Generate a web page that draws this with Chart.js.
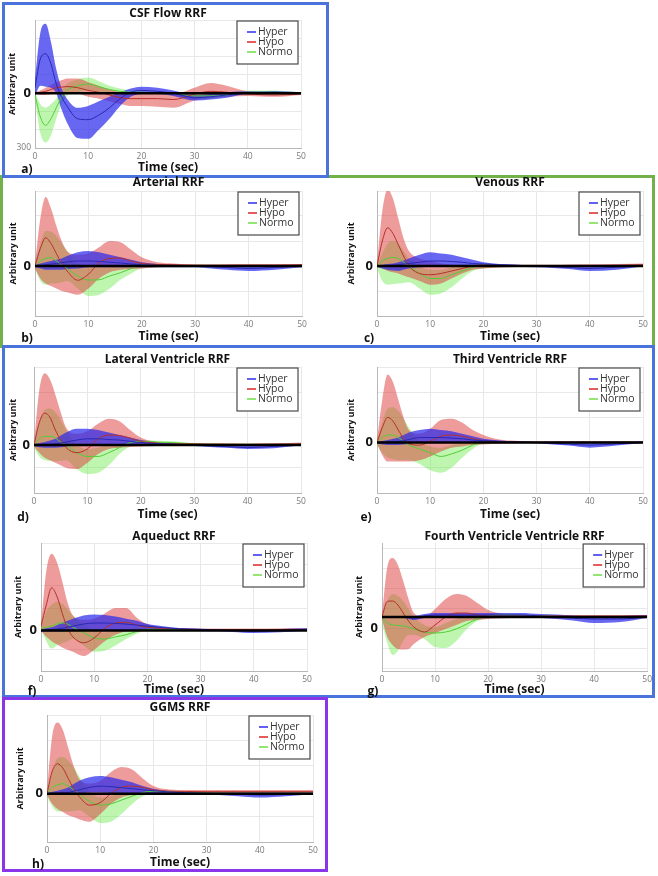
<!DOCTYPE html>
<html>
<head>
<meta charset="utf-8">
<script src="https://cdn.jsdelivr.net/npm/chart.js@4.4.1/dist/chart.umd.min.js"></script>
<style>
  body { margin: 0; width: 658px; height: 876px; position: relative; overflow: hidden; background: #fff; font-family: "Open Sans", sans-serif; }
  .frame { position: absolute; box-sizing: border-box; border: 3px solid; }
  .letter { position: absolute; font: bold 12px "Open Sans", sans-serif; color: #111; transform: translate(-50%, -50%); }
  canvas { position: absolute; }
</style>
</head>
<body>
<div class="frame" style="left:0;top:175px;width:655px;height:173px;border-color:#72b04a"></div>
<div class="frame" style="left:2px;top:2px;width:327px;height:176px;border-color:#4a74dc"></div>
<div class="frame" style="left:2px;top:345px;width:653px;height:353px;border-color:#4a74dc"></div>
<div class="frame" style="left:2px;top:697px;width:326px;height:175px;border-color:#8b35e8"></div>

<script>
// time axis (sec) shared by every panel
const timeSec = [0, 1, 2, 3, 4, 5, 6, 8, 10, 12, 14, 16, 18, 20, 23, 26, 30, 33, 36, 40, 45, 50];
const timeTicks = [0, 10, 20, 30, 40, 50];
const seriesNames = ['Hyper', 'Hypo', 'Normo'];

// a) CSF Flow (units of 100)
const aHyperMean = [0.3, 1.87, 2.15, 1.6, 0.5, -0.2, -0.7, -1.4, -1.45, -1.2, -0.8, -0.3, 0.05, 0.15, 0.1, 0.0, -0.25, -0.2, -0.1, 0.0, 0.05, 0.0];
const aHyperUp   = [0.8, 3.3, 3.8, 2.8, 1.3, 0.25, -0.3, -0.8, -0.7, -0.45, -0.2, 0.05, 0.25, 0.35, 0.3, 0.15, -0.1, -0.05, 0.05, 0.1, 0.1, 0.05];
const aHyperLo   = [-0.2, 0.4, 0.35, 0.3, 0.0, -0.9, -1.6, -2.45, -2.5, -2.0, -1.4, -0.7, -0.2, -0.05, -0.05, -0.15, -0.4, -0.35, -0.25, -0.05, -0.05, -0.05];
const aHypoMean  = [0, 0.05, 0.1, 0.2, 0.3, 0.33, 0.36, 0.3, 0.15, 0.05, -0.1, -0.25, -0.3, -0.3, -0.3, -0.35, -0.05, 0.1, 0.05, -0.05, -0.1, -0.05];
const aHypoUp    = [0.05, 0.15, 0.3, 0.45, 0.6, 0.7, 0.8, 0.8, 0.6, 0.4, 0.2, 0.05, 0.0, 0.0, -0.05, -0.05, 0.3, 0.55, 0.4, 0.1, 0.05, 0.05];
const aHypoLo    = [-0.05, -0.1, -0.1, -0.05, 0.0, 0.03, 0.05, 0.0, -0.2, -0.3, -0.45, -0.6, -0.7, -0.7, -0.75, -0.8, -0.4, -0.25, -0.2, -0.15, -0.2, -0.1];
const aNormoMean = [-0.1, -1.3, -1.76, -1.4, -0.8, -0.2, 0.15, 0.4, 0.5, 0.35, 0.2, 0.1, 0.05, 0.05, 0.02, 0.0, -0.15, -0.15, -0.1, 0.05, 0.05, 0.0];
const aNormoUp   = [0.05, -0.6, -0.8, -0.6, -0.3, 0.15, 0.5, 0.75, 0.85, 0.65, 0.4, 0.25, 0.15, 0.1, 0.08, 0.05, -0.05, -0.05, 0.0, 0.15, 0.15, 0.05];
const aNormoLo   = [-0.3, -2.2, -2.7, -2.3, -1.4, -0.6, -0.15, 0.05, 0.15, 0.05, 0.0, -0.05, -0.05, -0.05, -0.05, -0.1, -0.3, -0.3, -0.2, -0.05, -0.05, -0.05];
const aYTicks    = [-3, -2, -1, 0, 1, 2, 3, 4];
const aYText     = ['300', '', '', '0', '', '', '', ''];

// b) Arterial
const bHyperMean = [0, 0.02, 0.05, 0.08, 0.1, 0.13, 0.16, 0.2, 0.2, 0.18, 0.15, 0.12, 0.08, 0.05, 0.03, 0.01, 0.0, -0.03, -0.06, -0.1, -0.06, 0.0];
const bHyperUp   = [0.05, 0.1, 0.15, 0.2, 0.25, 0.3, 0.4, 0.55, 0.6, 0.55, 0.45, 0.35, 0.25, 0.15, 0.08, 0.05, 0.02, 0.0, 0.0, 0.0, 0.02, 0.05];
const bHyperLo   = [-0.05, -0.1, -0.15, -0.15, -0.15, -0.15, -0.12, -0.1, -0.05, -0.05, -0.05, -0.05, -0.05, -0.05, -0.05, -0.05, -0.05, -0.1, -0.15, -0.2, -0.15, -0.05];
const bHypoMean  = [0, 0.7, 1.13, 0.9, 0.5, 0.1, -0.2, -0.57, -0.33, 0.13, 0.3, 0.32, 0.2, 0.1, 0.06, 0.05, 0.03, 0.03, 0.03, 0.03, 0.03, 0.05];
const bHypoUp    = [0.1, 1.9, 2.76, 2.3, 1.6, 1.0, 0.6, 0.45, 0.5, 0.75, 1.0, 0.95, 0.65, 0.35, 0.15, 0.1, 0.06, 0.06, 0.07, 0.08, 0.08, 0.08];
const bHypoLo    = [-0.1, -0.5, -0.7, -0.8, -0.9, -1.0, -1.05, -1.15, -0.9, -0.5, -0.25, -0.15, -0.12, -0.1, -0.05, -0.03, -0.02, -0.02, -0.02, -0.02, -0.02, -0.02];
const bNormoMean = [0, 0.2, 0.3, 0.33, 0.2, 0.05, -0.1, -0.4, -0.56, -0.55, -0.4, -0.27, -0.1, 0.04, 0.03, 0.01, 0.0, 0.0, 0.0, 0.0, 0.0, 0.0];
const bNormoUp   = [0.1, 0.9, 1.4, 1.37, 1.2, 0.9, 0.6, 0.1, 0.0, 0.0, 0.05, 0.05, 0.08, 0.1, 0.08, 0.05, 0.05, 0.05, 0.05, 0.05, 0.05, 0.05];
const bNormoLo   = [-0.1, -0.6, -0.75, -0.7, -0.7, -0.65, -0.6, -0.9, -1.2, -1.15, -0.9, -0.55, -0.3, -0.1, -0.05, -0.05, -0.05, -0.05, -0.05, -0.05, -0.05, -0.05];
const bYTicks    = [-2, -1, 0, 1, 2, 3];
const bYText     = ['', '', '0', '', '', ''];

// c) Venous
const cHyperMean = [0, 0.01, 0.02, 0.03, 0.05, 0.08, 0.1, 0.15, 0.2, 0.2, 0.18, 0.15, 0.1, 0.08, 0.05, 0.03, 0.0, -0.03, -0.06, -0.1, -0.05, 0.0];
const cHyperUp   = [0.03, 0.05, 0.08, 0.1, 0.15, 0.22, 0.3, 0.45, 0.55, 0.5, 0.45, 0.35, 0.25, 0.15, 0.08, 0.05, 0.02, 0.0, 0.0, 0.0, 0.02, 0.05];
const cHyperLo   = [-0.03, -0.1, -0.15, -0.18, -0.2, -0.15, -0.1, -0.05, -0.03, -0.03, -0.03, -0.03, -0.03, -0.03, -0.03, -0.04, -0.05, -0.08, -0.12, -0.2, -0.15, -0.02];
const cHypoMean  = [0, 1.0, 1.53, 1.3, 0.85, 0.4, 0.0, -0.3, -0.35, -0.3, -0.2, -0.1, 0.0, 0.05, 0.03, 0.02, 0.02, 0.02, 0.02, 0.02, 0.03, 0.05];
const cHypoUp    = [0.1, 2.2, 3.05, 2.7, 1.9, 1.1, 0.6, 0.3, 0.2, 0.1, 0.06, 0.05, 0.05, 0.05, 0.05, 0.05, 0.05, 0.05, 0.06, 0.07, 0.08, 0.1];
const cHypoLo    = [-0.05, -0.1, -0.2, -0.25, -0.3, -0.38, -0.45, -0.6, -0.75, -0.7, -0.5, -0.3, -0.15, -0.1, -0.06, -0.04, -0.02, -0.02, -0.02, -0.02, -0.02, -0.02];
const cNormoMean = [0, 0.2, 0.3, 0.35, 0.3, 0.15, 0.0, -0.3, -0.5, -0.5, -0.35, -0.2, -0.05, 0.05, 0.02, 0.01, 0.0, 0.0, 0.0, 0.0, 0.0, 0.0];
const cNormoUp   = [0.05, 0.5, 0.9, 1.0, 0.9, 0.6, 0.3, 0.0, -0.15, -0.15, -0.05, 0.0, 0.05, 0.1, 0.06, 0.04, 0.02, 0.02, 0.02, 0.02, 0.02, 0.02];
const cNormoLo   = [-0.1, -0.6, -0.75, -0.72, -0.7, -0.68, -0.65, -0.9, -1.15, -1.1, -0.85, -0.5, -0.2, -0.1, -0.05, -0.04, -0.03, -0.03, -0.03, -0.03, -0.03, -0.03];
const cYTicks    = [-2, -1, 0, 1, 2, 3];
const cYText     = ['', '', '0', '', '', ''];

// d) Lateral Ventricle
const dHyperMean = [0, 0.02, 0.03, 0.04, 0.05, 0.08, 0.12, 0.2, 0.25, 0.25, 0.22, 0.2, 0.15, 0.1, 0.06, 0.04, 0.0, -0.03, -0.06, -0.1, -0.05, 0.0];
const dHyperUp   = [0.03, 0.08, 0.12, 0.18, 0.25, 0.38, 0.5, 0.65, 0.65, 0.6, 0.5, 0.4, 0.3, 0.2, 0.1, 0.06, 0.03, 0.01, 0.0, 0.0, 0.02, 0.05];
const dHyperLo   = [-0.03, -0.08, -0.1, -0.1, -0.1, -0.08, -0.05, 0.0, 0.0, 0.0, 0.0, 0.0, 0.0, 0.0, 0.0, -0.01, -0.03, -0.07, -0.1, -0.15, -0.12, -0.02];
const dHypoMean  = [0, 0.9, 1.27, 1.1, 0.6, 0.2, -0.1, -0.3, -0.15, 0.25, 0.4, 0.38, 0.28, 0.15, 0.08, 0.05, 0.05, 0.04, 0.04, 0.03, 0.04, 0.05];
const dHypoUp    = [0.1, 2.2, 2.85, 2.6, 2.0, 1.3, 0.7, 0.45, 0.55, 0.85, 1.05, 0.95, 0.6, 0.3, 0.12, 0.08, 0.06, 0.05, 0.05, 0.05, 0.07, 0.1];
const dHypoLo    = [-0.05, -0.3, -0.5, -0.6, -0.7, -0.8, -0.9, -0.95, -0.7, -0.35, -0.15, -0.1, -0.07, -0.05, -0.03, -0.02, -0.02, -0.02, -0.02, -0.02, -0.02, -0.02];
const dNormoMean = [0, 0.25, 0.35, 0.35, 0.28, 0.12, 0.0, -0.3, -0.45, -0.45, -0.3, -0.1, 0.1, 0.15, 0.12, 0.1, 0.05, 0.04, 0.03, 0.03, 0.03, 0.03];
const dNormoUp   = [0.05, 0.9, 1.4, 1.45, 1.3, 1.0, 0.6, 0.0, -0.15, -0.1, 0.0, 0.05, 0.15, 0.2, 0.17, 0.15, 0.07, 0.05, 0.05, 0.05, 0.05, 0.05];
const dNormoLo   = [-0.1, -0.45, -0.6, -0.62, -0.65, -0.62, -0.6, -0.95, -1.15, -1.1, -0.8, -0.35, -0.05, 0.05, 0.05, 0.03, 0.0, 0.0, 0.0, 0.0, 0.0, 0.0];
const dYTicks    = [-1.9, -0.9, 0, 1.1, 2.1, 3.1];
const dYText     = ['', '', '0', '', '', ''];

// e) Third Ventricle
const eHyperMean = [0, 0.01, 0.02, 0.03, 0.05, 0.08, 0.12, 0.2, 0.2, 0.2, 0.18, 0.15, 0.1, 0.08, 0.05, 0.03, 0.0, -0.03, -0.06, -0.1, -0.05, 0.0];
const eHyperUp   = [0.03, 0.06, 0.1, 0.15, 0.2, 0.3, 0.4, 0.5, 0.55, 0.5, 0.45, 0.35, 0.25, 0.15, 0.08, 0.05, 0.02, 0.01, 0.0, 0.0, 0.02, 0.05];
const eHyperLo   = [-0.03, -0.08, -0.1, -0.1, -0.1, -0.08, -0.05, 0.0, 0.0, 0.0, 0.0, 0.0, 0.0, 0.0, 0.0, -0.01, -0.03, -0.08, -0.12, -0.2, -0.12, -0.02];
const eHypoMean  = [0, 0.6, 1.0, 0.85, 0.5, 0.15, -0.05, -0.1, 0.05, 0.25, 0.3, 0.25, 0.15, 0.08, 0.04, 0.03, 0.02, 0.02, 0.02, 0.02, 0.02, 0.02];
const eHypoUp    = [0.1, 1.7, 2.7, 2.4, 1.7, 1.0, 0.5, 0.35, 0.55, 0.9, 0.95, 0.8, 0.5, 0.3, 0.12, 0.07, 0.05, 0.05, 0.05, 0.05, 0.05, 0.05];
const eHypoLo    = [-0.05, -0.5, -0.75, -0.75, -0.75, -0.75, -0.75, -0.7, -0.55, -0.35, -0.2, -0.15, -0.1, -0.08, -0.05, -0.03, -0.02, -0.02, -0.02, -0.02, -0.02, -0.02];
const eNormoMean = [0, 0.2, 0.3, 0.3, 0.2, 0.05, -0.1, -0.25, -0.4, -0.55, -0.45, -0.3, -0.1, 0.0, 0.0, 0.0, 0.0, 0.0, 0.0, 0.0, 0.0, 0.0];
const eNormoUp   = [0.05, 0.8, 1.35, 1.4, 1.25, 0.95, 0.6, 0.05, -0.15, -0.2, -0.1, 0.0, 0.05, 0.05, 0.04, 0.03, 0.02, 0.02, 0.02, 0.02, 0.02, 0.02];
const eNormoLo   = [-0.1, -0.4, -0.6, -0.65, -0.7, -0.7, -0.7, -0.85, -1.1, -1.2, -1.0, -0.6, -0.25, -0.05, -0.03, -0.02, -0.01, -0.01, -0.01, -0.01, -0.01, -0.01];
const eYTicks    = [-2, -1, 0, 1, 2, 3];
const eYText     = ['', '', '0', '', '', ''];

// f) Aqueduct
const fHyperMean = [0, 0.02, 0.04, 0.06, 0.1, 0.15, 0.2, 0.3, 0.35, 0.35, 0.33, 0.3, 0.25, 0.2, 0.13, 0.08, 0.05, 0.02, 0.0, -0.05, 0.0, 0.05];
const fHyperUp   = [0.05, 0.1, 0.15, 0.25, 0.35, 0.45, 0.55, 0.7, 0.75, 0.72, 0.65, 0.55, 0.45, 0.3, 0.2, 0.12, 0.08, 0.06, 0.05, 0.05, 0.07, 0.1];
const fHyperLo   = [-0.05, -0.05, -0.05, -0.05, -0.05, -0.03, -0.02, 0.0, 0.0, 0.0, 0.0, 0.0, 0.0, 0.0, 0.0, -0.01, -0.02, -0.04, -0.07, -0.12, -0.08, 0.0];
const fHypoMean  = [0.2, 1.2, 2.0, 1.6, 0.8, 0.1, -0.3, -0.58, -0.35, 0.1, 0.35, 0.38, 0.25, 0.15, 0.1, 0.07, 0.05, 0.05, 0.05, 0.05, 0.05, 0.05];
const fHypoUp    = [0.25, 2.8, 3.6, 3.2, 2.3, 1.3, 0.7, 0.5, 0.55, 0.8, 1.05, 1.05, 0.6, 0.3, 0.15, 0.1, 0.08, 0.08, 0.08, 0.08, 0.09, 0.1];
const fHypoLo    = [0.0, -0.3, -0.5, -0.65, -0.8, -0.9, -1.0, -1.2, -0.9, -0.5, -0.2, -0.05, 0.0, 0.0, 0.0, 0.0, 0.0, 0.0, 0.0, 0.0, 0.0, 0.0];
const fNormoMean = [0.1, 0.15, 0.2, 0.3, 0.35, 0.3, 0.15, -0.1, -0.35, -0.4, -0.3, -0.2, -0.05, 0.05, 0.05, 0.04, 0.03, 0.02, 0.02, 0.02, 0.02, 0.02];
const fNormoUp   = [0.2, 0.9, 1.2, 1.35, 1.25, 1.0, 0.7, 0.3, 0.0, -0.1, 0.0, 0.05, 0.1, 0.15, 0.12, 0.08, 0.05, 0.04, 0.04, 0.04, 0.04, 0.04];
const fNormoLo   = [0.05, -0.5, -0.85, -0.7, -0.6, -0.5, -0.4, -0.7, -1.0, -0.95, -0.7, -0.4, -0.15, 0.0, 0.0, 0.0, 0.0, 0.0, 0.0, 0.0, 0.0, 0.0];
const fYTicks    = [-1.9, -0.9, 0, 1.05, 2.1, 3.1, 4.1];
const fYText     = ['', '', '0', '', '', '', ''];

// g) Fourth Ventricle
const gHyperMean = [0, 0.0, 0.0, 0.0, 0.0, -0.02, -0.05, 0.05, 0.1, 0.1, 0.1, 0.1, 0.1, 0.1, 0.1, 0.1, 0.05, 0.0, -0.05, -0.1, -0.1, 0.0];
const gHyperUp   = [0.02, 0.03, 0.04, 0.05, 0.05, 0.05, 0.05, 0.15, 0.2, 0.2, 0.2, 0.2, 0.2, 0.2, 0.2, 0.2, 0.15, 0.12, 0.08, 0.02, 0.05, 0.1];
const gHyperLo   = [-0.02, -0.03, -0.04, -0.05, -0.05, -0.1, -0.15, -0.05, 0.0, 0.0, 0.0, 0.0, 0.0, 0.0, 0.0, 0.0, -0.05, -0.1, -0.18, -0.3, -0.25, -0.05];
const gHypoMean  = [0, 0.78, 0.8, 0.6, 0.2, -0.2, -0.5, -0.75, -0.4, 0.0, 0.2, 0.2, 0.1, 0.05, 0.05, 0.05, 0.05, 0.05, 0.05, 0.05, 0.05, 0.05];
const gHypoUp    = [0.1, 2.5, 2.95, 2.6, 1.8, 0.9, 0.2, 0.0, 0.4, 0.9, 1.15, 1.05, 0.7, 0.35, 0.15, 0.1, 0.05, 0.05, 0.06, 0.07, 0.08, 0.1];
const gHypoLo    = [-0.1, -1.0, -1.4, -1.6, -1.63, -1.6, -1.35, -1.0, -0.8, -0.6, -0.4, -0.2, -0.15, -0.1, -0.06, -0.04, -0.02, -0.02, -0.02, -0.02, -0.02, -0.02];
const gNormoMean = [0, -0.3, -0.4, -0.42, -0.45, -0.5, -0.6, -0.75, -0.8, -0.75, -0.6, -0.35, -0.1, 0.05, 0.1, 0.08, 0.05, 0.03, 0.02, 0.02, 0.02, 0.02];
const gNormoUp   = [0.05, 0.8, 1.15, 1.05, 0.8, 0.4, 0.0, -0.4, -0.5, -0.3, -0.1, 0.05, 0.1, 0.15, 0.15, 0.12, 0.1, 0.07, 0.05, 0.05, 0.05, 0.05];
const gNormoLo   = [-0.3, -1.3, -1.9, -1.7, -1.2, -0.9, -0.9, -1.1, -1.5, -1.55, -1.2, -0.6, -0.2, -0.05, 0.03, 0.03, 0.02, 0.01, 0.0, 0.0, 0.0, 0.0];
const gYTicks    = [-2.55, -1.55, -0.55, 0.45, 1.45, 2.45, 3.45];
const gYText     = ['', '', '0', '', '', '', ''];

// h) GGMS
const hHyperMean = [0, 0.02, 0.03, 0.04, 0.05, 0.1, 0.15, 0.25, 0.3, 0.28, 0.24, 0.2, 0.15, 0.12, 0.07, 0.04, 0.02, 0.0, -0.02, -0.05, -0.03, 0.0];
const hHyperUp   = [0.03, 0.08, 0.12, 0.18, 0.25, 0.38, 0.5, 0.65, 0.7, 0.65, 0.55, 0.45, 0.3, 0.2, 0.1, 0.07, 0.05, 0.05, 0.05, 0.05, 0.05, 0.05];
const hHyperLo   = [-0.03, -0.04, -0.05, -0.05, -0.05, -0.03, 0.0, 0.05, 0.05, 0.03, 0.02, 0.0, 0.0, 0.0, 0.0, -0.01, -0.03, -0.06, -0.1, -0.15, -0.1, -0.02];
const hHypoMean  = [0, 0.9, 1.18, 1.0, 0.6, 0.2, -0.1, -0.45, -0.35, 0.0, 0.25, 0.3, 0.25, 0.15, 0.1, 0.09, 0.08, 0.08, 0.08, 0.08, 0.08, 0.08];
const hHypoUp    = [0.1, 2.3, 2.8, 2.5, 1.8, 1.1, 0.6, 0.4, 0.5, 0.85, 1.05, 0.95, 0.6, 0.3, 0.17, 0.15, 0.15, 0.15, 0.15, 0.15, 0.15, 0.15];
const hHypoLo    = [-0.05, -0.4, -0.6, -0.72, -0.85, -0.92, -1.0, -1.1, -0.8, -0.4, -0.15, -0.05, 0.0, 0.0, 0.02, 0.02, 0.02, 0.02, 0.02, 0.02, 0.02, 0.02];
const hNormoMean = [0, 0.25, 0.35, 0.4, 0.3, 0.15, 0.0, -0.3, -0.45, -0.4, -0.25, -0.1, 0.05, 0.1, 0.08, 0.05, 0.03, 0.02, 0.02, 0.02, 0.02, 0.02];
const hNormoUp   = [0.05, 0.9, 1.4, 1.45, 1.3, 1.05, 0.7, 0.1, -0.15, -0.1, 0.0, 0.05, 0.1, 0.15, 0.13, 0.1, 0.05, 0.04, 0.04, 0.04, 0.04, 0.04];
const hNormoLo   = [-0.1, -0.5, -0.7, -0.7, -0.7, -0.68, -0.65, -0.9, -1.15, -1.1, -0.8, -0.4, -0.1, 0.0, 0.0, 0.0, 0.0, 0.0, 0.0, 0.0, 0.0, 0.0];
const hYTicks    = [-1.9, -0.9, 0, 1.1, 2.1, 3.1];
const hYText     = ['', '', '0', '', '', ''];

// colours
const bandColors = ['rgba(45,45,235,0.72)', 'rgba(222,55,55,0.5)', 'rgba(110,235,80,0.45)'];
const meanColors = ['#2828b4', '#b3302a', '#52cc36'];
const legendColors = ['#3a3aee', '#dd3333', '#78e050'];
const FONT = '"Open Sans", sans-serif';

// layout of each panel: plot box [x0, y0, x1, y1] in page pixels
const panels = [
  { title: 'CSF Flow RRF', letter: 'a)', letterAt: [27, 168], box: [35, 20, 301, 148], titleY: 14, xTitleY: 168, yTitleX: 12,
    yMin: -3, yMax: 4, yTicks: aYTicks, yText: aYText,
    series: [[aHyperMean, aHyperUp, aHyperLo], [aHypoMean, aHypoUp, aHypoLo], [aNormoMean, aNormoUp, aNormoLo]] },
  { title: 'Arterial RRF', letter: 'b)', letterAt: [27, 337], box: [35, 191, 302, 316], titleY: 183, xTitleY: 337, yTitleX: 13,
    yMin: -2, yMax: 3, yTicks: bYTicks, yText: bYText,
    series: [[bHyperMean, bHyperUp, bHyperLo], [bHypoMean, bHypoUp, bHypoLo], [bNormoMean, bNormoUp, bNormoLo]] },
  { title: 'Venous RRF', letter: 'c)', letterAt: [369, 337], box: [377, 191, 643, 316], titleY: 183, xTitleY: 337, yTitleX: 351,
    yMin: -2, yMax: 3, yTicks: cYTicks, yText: cYText,
    series: [[cHyperMean, cHyperUp, cHyperLo], [cHypoMean, cHypoUp, cHypoLo], [cNormoMean, cNormoUp, cNormoLo]] },
  { title: 'Lateral Ventricle RRF', letter: 'd)', letterAt: [23, 516], box: [34, 367, 301, 493], titleY: 360, xTitleY: 515, yTitleX: 13,
    yMin: -1.9, yMax: 3.1, yTicks: dYTicks, yText: dYText,
    series: [[dHyperMean, dHyperUp, dHyperLo], [dHypoMean, dHypoUp, dHypoLo], [dNormoMean, dNormoUp, dNormoLo]] },
  { title: 'Third Ventricle RRF', letter: 'e)', letterAt: [366, 516], box: [377, 367, 643, 493], titleY: 360, xTitleY: 515, yTitleX: 351,
    yMin: -2, yMax: 3, yTicks: eYTicks, yText: eYText,
    series: [[eHyperMean, eHyperUp, eHyperLo], [eHypoMean, eHypoUp, eHypoLo], [eNormoMean, eNormoUp, eNormoLo]] },
  { title: 'Aqueduct RRF', letter: 'f)', letterAt: [32, 690], box: [41, 543, 307, 671], titleY: 537, xTitleY: 690, yTitleX: 18,
    yMin: -1.9, yMax: 4.1, yTicks: fYTicks, yText: fYText,
    series: [[fHyperMean, fHyperUp, fHyperLo], [fHypoMean, fHypoUp, fHypoLo], [fNormoMean, fNormoUp, fNormoLo]] },
  { title: 'Fourth Ventricle Ventricle RRF', letter: 'g)', letterAt: [373, 690], box: [382, 543, 649, 671], titleY: 537, xTitleY: 690, yTitleX: 359,
    yMin: -2.7, yMax: 3.7, yTicks: gYTicks, yText: gYText,
    series: [[gHyperMean, gHyperUp, gHyperLo], [gHypoMean, gHypoUp, gHypoLo], [gNormoMean, gNormoUp, gNormoLo]] },
  { title: 'GGMS RRF', letter: 'h)', letterAt: [38, 863], box: [47, 715, 313, 842], titleY: 708, xTitleY: 863, yTitleX: 20,
    yMin: -1.9, yMax: 3.1, yTicks: hYTicks, yText: hYText,
    series: [[hHyperMean, hHyperUp, hHyperLo], [hHypoMean, hHypoUp, hHypoLo], [hNormoMean, hNormoUp, hNormoLo]] },
];

const pts = vals => timeSec.map((t, i) => ({ x: t, y: vals[i] }));

// boxed legend in the top right corner of the plot
const boxLegend = {
  id: 'boxLegend',
  afterDraw(chart) {
    const { ctx, chartArea } = chart;
    const w = 61, h = 43;
    const x = chartArea.right - 3 - w, y = chartArea.top + 1;
    ctx.save();
    ctx.fillStyle = '#fff';
    ctx.fillRect(x, y, w, h);
    ctx.strokeStyle = '#4a4a4a';
    ctx.lineWidth = 1.2;
    ctx.strokeRect(x, y, w, h);
    ctx.font = '10.5px ' + FONT;
    ctx.textBaseline = 'middle';
    seriesNames.forEach((name, i) => {
      const ry = y + 11 + i * 10;
      ctx.strokeStyle = legendColors[i];
      ctx.lineWidth = 1.6;
      ctx.beginPath();
      ctx.moveTo(x + 10, ry);
      ctx.lineTo(x + 19, ry);
      ctx.stroke();
      ctx.fillStyle = '#333';
      ctx.fillText(name, x + 21, ry);
    });
    ctx.restore();
  }
};

panels.forEach(p => {
  const [x0, y0, x1, y1] = p.box;
  const cx = Math.round(p.yTitleX - 7), cy = Math.round(p.titleY - 7);
  const cr = Math.min(x1 + 20, 655), cb = Math.round(p.xTitleY + 9);

  const canvas = document.createElement('canvas');
  canvas.width = cr - cx;
  canvas.height = cb - cy;
  canvas.style.left = cx + 'px';
  canvas.style.top = cy + 'px';
  document.body.appendChild(canvas);

  const lbl = document.createElement('div');
  lbl.className = 'letter';
  lbl.textContent = p.letter;
  lbl.style.left = p.letterAt[0] + 'px';
  lbl.style.top = p.letterAt[1] + 'px';
  document.body.appendChild(lbl);

  // bands: normo at the back, then hypo, hyper on top
  const datasets = [];
  [2, 1, 0].forEach((s, k) => {
    const [, up, lo] = p.series[s];
    datasets.push({ data: pts(up), borderWidth: 0, borderColor: 'transparent', fill: false, order: 9 - k });
    datasets.push({ data: pts(lo), borderWidth: 0, borderColor: 'transparent', fill: '-1', backgroundColor: bandColors[s], order: 9 - k });
  });
  [2, 1, 0].forEach((s, k) => {
    datasets.push({ data: pts(p.series[s][0]), borderColor: meanColors[s], borderWidth: 1, fill: false, order: 5 - k });
  });
  datasets.push({ data: [{ x: 0, y: 0 }, { x: 50, y: 0 }], borderColor: '#000', borderWidth: 2.5, fill: false, order: 0 });

  new Chart(canvas, {
    type: 'line',
    data: { datasets },
    options: {
      responsive: false,
      animation: false,
      layout: { padding: { left: 0, top: 0, right: cr - x1, bottom: 0 } },
      elements: { point: { radius: 0 }, line: { cubicInterpolationMode: 'monotone' } },
      plugins: {
        legend: { display: false },
        tooltip: { enabled: false },
        title: {
          display: true, text: p.title, fullSize: false, color: '#111',
          font: { family: FONT, size: 12, weight: 'bold', lineHeight: 1 },
          padding: { top: p.titleY - 6 - cy, bottom: Math.max(0, y0 - p.titleY - 6) }
        }
      },
      scales: {
        x: {
          type: 'linear', min: 0, max: 50,
          afterBuildTicks: s => { s.ticks = timeTicks.map(v => ({ value: v })); },
          afterFit: s => { s.height = cb - y1; },
          ticks: { font: { family: FONT, size: 8.5 }, color: '#7a7a7a', padding: 3, maxRotation: 0, autoSkip: false },
          grid: { color: '#e8e8e8', drawTicks: false },
          border: { color: '#b8b8b8' },
          title: {
            display: true, text: 'Time (sec)', color: '#111',
            font: { family: FONT, size: 12, weight: 'bold', lineHeight: 1.2 },
            padding: { top: 0, bottom: cb - p.xTitleY - 7.2 }
          }
        },
        y: {
          min: p.yMin, max: p.yMax,
          afterBuildTicks: s => { s.ticks = p.yTicks.map(v => ({ value: v })); },
          afterFit: s => { s.width = x0 - cx; },
          ticks: {
            callback: (v, i) => p.yText[i],
            font: c => p.yText[c.index] === '0' ? { family: FONT, size: 13, weight: 'bold' } : { family: FONT, size: 8.5 },
            color: c => p.yText[c.index] === '0' ? '#111' : '#7a7a7a',
            padding: 4, autoSkip: false
          },
          grid: { color: '#e8e8e8', drawTicks: false },
          border: { color: '#b8b8b8' },
          title: {
            display: true, text: 'Arbitrary unit', color: '#111',
            font: { family: FONT, size: 9, weight: 'bold', lineHeight: 1.2 },
            padding: { top: p.yTitleX - cx - 5.4, bottom: 0 }
          }
        }
      }
    },
    plugins: [boxLegend]
  });
});
</script>
</body>
</html>
